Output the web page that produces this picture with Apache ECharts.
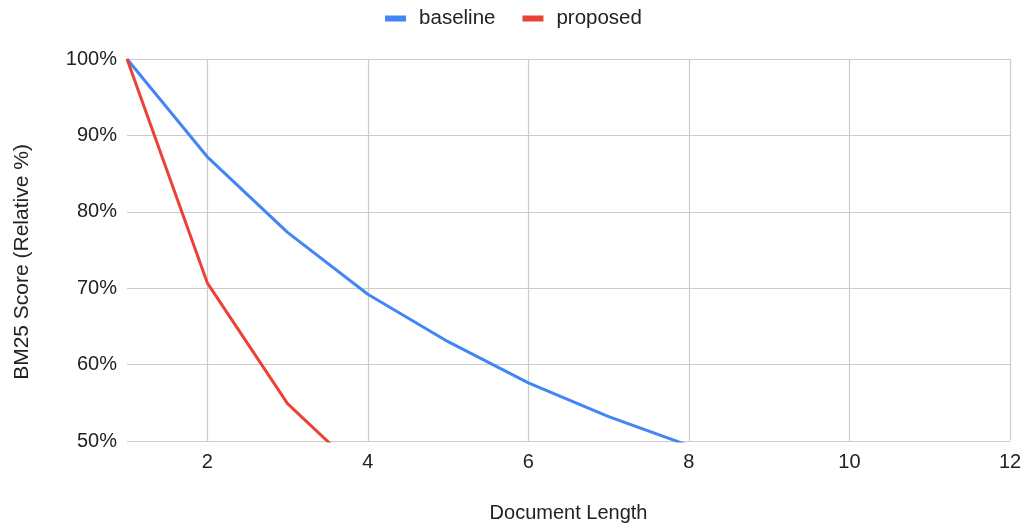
<!DOCTYPE html>
<html>
<head>
<meta charset="utf-8">
<script src="https://cdn.jsdelivr.net/npm/echarts@6/dist/echarts.min.js"></script>
<style>
html,body{margin:0;padding:0;background:#fff;}
#chart{width:1027px;height:528px;}
</style>
</head>
<body>
<div id="chart"></div>
<script>
const docLength = [1, 2, 3, 4, 5, 6, 7, 8];
const baseline = [100, 87.2, 77.3, 69.2, 63.0, 57.6, 53.2, 49.4];
const proposed = [100, 70.7, 54.9, 45.0];
const xTicks = [2, 4, 6, 8, 10, 12];
const yTicks = [50, 60, 70, 80, 90, 100];

const font = 'Liberation Sans, Arial, Helvetica, sans-serif';
const chart = echarts.init(document.getElementById('chart'));
chart.setOption({
  animation: false,
  backgroundColor: '#fff',
  textStyle: { fontFamily: font },
  legend: {
    top: 3,
    left: 'center',
    icon: 'rect',
    itemWidth: 21,
    itemHeight: 6,
    itemGap: 27,
    textStyle: { fontSize: 20.5, color: '#222', fontFamily: font, padding: [0, 0, 0, 8] },
    data: ['baseline', 'proposed']
  },
  grid: { left: 127, right: 17, top: 59, bottom: 85, containLabel: false },
  xAxis: {
    type: 'value',
    min: 1,
    max: 12,
    name: 'Document Length',
    nameLocation: 'middle',
    nameGap: 62,
    nameTextStyle: { fontSize: 20, color: '#222', fontFamily: font },
    axisLine: { show: false },
    axisTick: { show: false, customValues: xTicks },
    axisLabel: { customValues: xTicks, fontSize: 20, color: '#222', margin: 11, fontFamily: font },
    splitLine: { show: true, lineStyle: { color: '#cccccc', width: 1.2 } }
  },
  yAxis: {
    type: 'value',
    min: yTicks[0],
    max: yTicks[yTicks.length - 1],
    interval: 10,
    name: 'BM25 Score (Relative %)',
    nameLocation: 'middle',
    nameGap: 94,
    nameTextStyle: { fontSize: 21, color: '#222', fontFamily: font, padding: [0, 24, 0, 0] },
    axisLine: { show: false },
    axisTick: { show: false },
    axisLabel: { fontSize: 20, color: '#222', margin: 10, fontFamily: font, formatter: v => v + '%' },
    splitLine: { show: true, lineStyle: { color: '#cccccc', width: 1.2 } }
  },
  series: [
    {
      name: 'baseline',
      type: 'line',
      data: docLength.slice(0, baseline.length).map((x, i) => [x, baseline[i]]),
      showSymbol: false,
      clip: true,
      color: '#4285F4',
      lineStyle: { width: 3, color: '#4285F4' }
    },
    {
      name: 'proposed',
      type: 'line',
      data: docLength.slice(0, proposed.length).map((x, i) => [x, proposed[i]]),
      showSymbol: false,
      clip: true,
      color: '#EA4335',
      lineStyle: { width: 3, color: '#EA4335' }
    }
  ]
});
</script>
</body>
</html>
